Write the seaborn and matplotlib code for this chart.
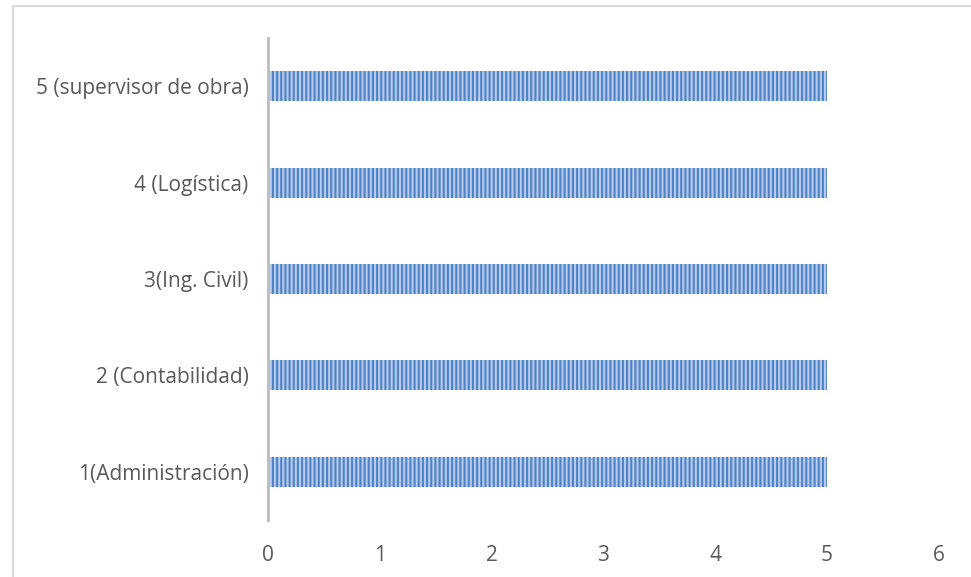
import matplotlib
matplotlib.use("Agg")
import matplotlib.pyplot as plt
import seaborn as sns
import pandas as pd
from matplotlib.patches import Rectangle

categories = [
    "5 (supervisor de obra)",
    "4 (Logística)",
    "3(Ing. Civil)",
    "2 (Contabilidad)",
    "1(Administración)",
]
values = [5, 5, 5, 5, 5]
x_ticks = [0, 1, 2, 3, 4, 5, 6]

sns.set_theme(style="white")
plt.rcParams["font.family"] = ["Open Sans", "DejaVu Sans"]
plt.rcParams["hatch.linewidth"] = 1.5

df = pd.DataFrame({"area": categories, "valor": values})

fig = plt.figure(figsize=(9.71, 5.77), dpi=100)
ax = fig.add_axes([268 / 971, 1 - 520 / 577, (938.7 - 268) / 971, 482 / 577])

sns.barplot(data=df, y="area", x="valor", order=categories, orient="h",
            color="#a6c1e6", width=0.31, ax=ax, saturation=1)

for p in ax.patches:
    p.set_facecolor("#b3cbec")
    p.set_edgecolor("#5282c4")
    p.set_linewidth(0)
    p.set_hatch("|" * 4)

ax.set_xlim(0, 6)
ax.set_ylim(4.5, -0.5)
ax.set_xticks(x_ticks)
ax.set_xticklabels([str(t) for t in x_ticks])
ax.set_xlabel("")
ax.set_ylabel("")

for side in ["top", "right", "bottom"]:
    ax.spines[side].set_visible(False)
ax.spines["left"].set_color("#bfbfbf")
ax.spines["left"].set_linewidth(2.2)

ax.tick_params(axis="both", length=0, labelsize=15, colors="#595959")
ax.tick_params(axis="x", pad=18)
ax.tick_params(axis="y", pad=14)

# outer chart frame
fig.patches.append(Rectangle((13 / 971, -0.05), 1.1, 1 - 6 / 577 + 0.05,
                             transform=fig.transFigure, fill=False,
                             edgecolor="#d9d9d9", linewidth=1.5, zorder=0))

fig.savefig("out.png", dpi=100)
